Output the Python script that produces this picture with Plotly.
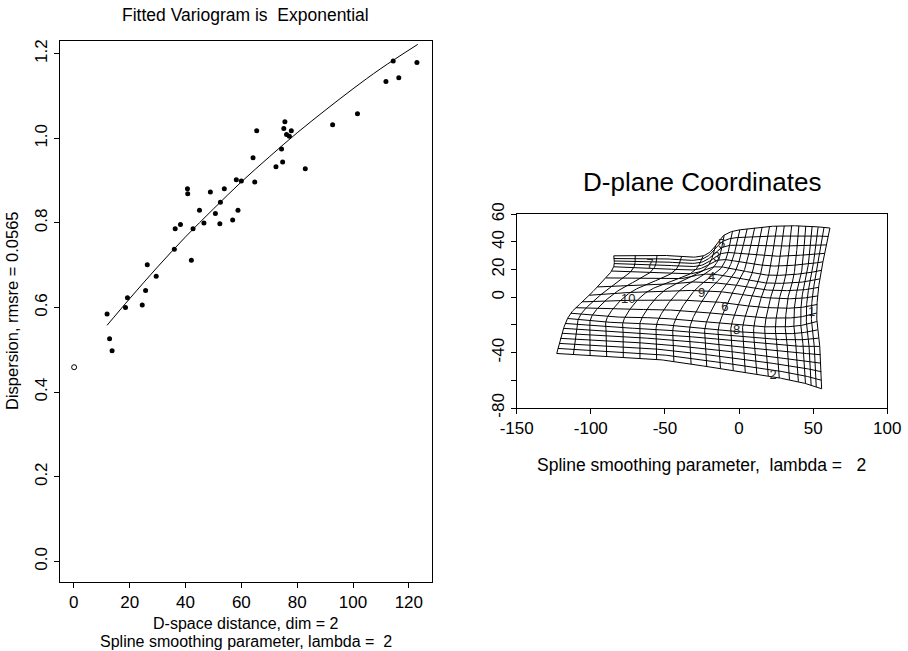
import numpy as np
import plotly.graph_objects as go

# ---------------- Left panel: variogram ----------------
dist = [114.4, 122.9, 111.8, 116.4, 101.6, 92.7, 82.9, 75.6, 75.2, 77.9, 76.2, 77.2,
        74.4, 74.8, 72.4, 65.5, 64.2, 64.8, 58.2, 60.0, 40.7, 40.8, 48.9, 53.9, 52.5,
        45.0, 50.7, 58.8, 46.6, 52.3, 56.9, 36.3, 38.2, 42.7, 36.0, 42.1, 26.3, 29.5,
        19.2, 25.7, 18.5, 24.5, 11.9, 12.8, 13.7]
disp = [1.183, 1.179, 1.134, 1.143, 1.058, 1.032, 0.928, 1.039, 1.023, 1.018, 1.009, 1.005,
        0.975, 0.944, 0.933, 1.018, 0.954, 0.897, 0.902, 0.899, 0.881, 0.869, 0.873, 0.881, 0.849,
        0.830, 0.822, 0.830, 0.800, 0.798, 0.807, 0.786, 0.796, 0.786, 0.738, 0.712, 0.701, 0.674,
        0.623, 0.640, 0.600, 0.606, 0.585, 0.526, 0.498]
nugget_x = [0.1]
nugget_y = [0.459]
curve_h = [11.9, 20, 30, 40, 50, 60, 70, 80, 90, 100, 110, 123.2]
curve_g = [0.558, 0.621, 0.696, 0.767, 0.833, 0.897, 0.956, 1.013, 1.066, 1.117, 1.165, 1.222]
left_xticks = [0, 20, 40, 60, 80, 100, 120]
left_yticks = [0.0, 0.2, 0.4, 0.6, 0.8, 1.0, 1.2]
left_yticktext = ["0.0", "0.2", "0.4", "0.6", "0.8", "1.0", "1.2"]

# ---------------- Right panel: deformed grid (control lattice) ----------------
n_cols = 22
n_rows = 20
ctrl_cols = [0, 2, 4, 6, 9, 13, 17, 21]
ctrl_rows = [0, 4, 8, 11, 14, 19]
node_x = [
    [-123.0, -100.5, -78.1, -55.6, -21.8, 12.0, 40.0, 55.7],
    [-119.5, -100.3, -78.0, -56.0, -23.0, 11.0, 39.0, 55.0],
    [-113.5, -99.0, -77.0, -54.0, -22.0, 10.0, 37.0, 52.5],
    [-101.0, -84.0, -62.0, -40.0, -12.0, 15.0, 38.0, 53.0],
    [-86.0, -60.0, -33.0, -17.0, -2.0, 20.0, 42.0, 55.5],
    [-84.5, -55.3, -24.2, -10.0, 5.5, 25.5, 45.0, 61.3],
]
node_y = [
    [-40.6, -42.0, -43.3, -44.8, -50.0, -55.5, -61.0, -66.1],
    [-26.0, -27.0, -28.5, -30.0, -33.0, -37.0, -40.0, -41.5],
    [-11.5, -13.0, -14.5, -15.0, -18.0, -21.0, -21.0, -17.5],
    [1.5, 3.0, 4.0, 5.0, 4.0, 0.0, -1.0, 1.0],
    [19.0, 18.0, 17.0, 22.0, 20.0, 16.0, 17.0, 19.5],
    [30.0, 30.5, 30.0, 45.0, 49.5, 51.5, 51.5, 50.1],
]
site_labels = ["1", "2", "3", "4", "5", "6", "7", "8", "9", "10"]
site_x = [49.0, 23.0, -15.1, -18.5, -11.7, -9.5, -60.0, -1.6, -25.3, -74.7]
site_y = [-11.3, -56.5, 28.4, 14.0, 38.0, -7.7, 23.6, -24.5, 2.5, -1.7]
right_xticks = [-150, -100, -50, 0, 50, 100]
right_xticktext = ["-150", "-100", "-50", "0", "50", "100"]
right_yticks = [-80, -60, -40, -20, 0, 20, 40, 60]
right_yticktext = ["-80", "", "-40", "", "0", "20", "40", "60"]


def hermite(knots, vals, t):
    k = np.asarray(knots, float)
    v = np.asarray(vals, float)
    t = np.atleast_1d(np.asarray(t, float))
    m = np.empty_like(v)
    m[0] = (v[1] - v[0]) / (k[1] - k[0])
    m[-1] = (v[-1] - v[-2]) / (k[-1] - k[-2])
    m[1:-1] = (v[2:] - v[:-2]) / (k[2:] - k[:-2])
    i = np.clip(np.searchsorted(k, t, side="right") - 1, 0, len(k) - 2)
    h = k[i + 1] - k[i]
    s = (t - k[i]) / h
    h00 = 2 * s**3 - 3 * s**2 + 1
    h10 = s**3 - 2 * s**2 + s
    h01 = -2 * s**3 + 3 * s**2
    h11 = s**3 - s**2
    return h00 * v[i] + h10 * h * m[i] + h01 * v[i + 1] + h11 * h * m[i + 1]


def warp(c, r, nodes):
    c = np.atleast_1d(np.asarray(c, float))
    r = np.atleast_1d(np.asarray(r, float))
    rows_at_c = np.array([hermite(ctrl_cols, row, c) for row in nodes])
    return np.array([hermite(ctrl_rows, rows_at_c[:, j], r[j])[0] for j in range(len(c))])


gx, gy = [], []
cfine = np.linspace(0, n_cols - 1, 211)
for r in range(n_rows):
    rr = np.full_like(cfine, r)
    gx += list(warp(cfine, rr, node_x)) + [None]
    gy += list(warp(cfine, rr, node_y)) + [None]
rfine = np.linspace(0, n_rows - 1, 191)
for c in range(n_cols):
    cc = np.full_like(rfine, c)
    gx += list(warp(cc, rfine, node_x)) + [None]
    gy += list(warp(cc, rfine, node_y)) + [None]

FONT = "Liberation Sans, Arial, Helvetica, sans-serif"
fig = go.Figure()

fig.add_trace(go.Scatter(x=curve_h, y=curve_g, mode="lines", line=dict(color="black", width=1, shape="spline"),
                         xaxis="x", yaxis="y", showlegend=False, hoverinfo="skip"))
fig.add_trace(go.Scatter(x=dist, y=disp, mode="markers", marker=dict(color="black", size=5),
                         xaxis="x", yaxis="y", showlegend=False))
fig.add_trace(go.Scatter(x=nugget_x, y=nugget_y, mode="markers",
                         marker=dict(color="white", size=5, line=dict(color="black", width=1)),
                         xaxis="x", yaxis="y", showlegend=False))

fig.add_trace(go.Scatter(x=gx, y=gy, mode="lines", line=dict(color="black", width=1),
                         xaxis="x2", yaxis="y2", showlegend=False, hoverinfo="skip", connectgaps=False))
fig.add_trace(go.Scatter(x=site_x, y=site_y, mode="text", text=site_labels,
                         textfont=dict(family=FONT, size=13, color="#222"),
                         xaxis="x2", yaxis="y2", showlegend=False))

W, H = 908, 651
tickfont = dict(family=FONT, size=17, color="black")
axstyle = dict(showline=True, mirror=True, linecolor="black", linewidth=1, ticks="outside",
               ticklen=5, tickcolor="black", showgrid=False, zeroline=False, automargin=False,
               tickfont=tickfont)

fig.update_layout(
    width=W, height=H, margin=dict(l=0, r=0, t=0, b=0, autoexpand=False),
    paper_bgcolor="white", plot_bgcolor="white",
    font=dict(family=FONT, color="black"),
    xaxis=dict(domain=[60 / W, 432 / W], range=[-4.96, 128.3], tickvals=left_xticks, anchor="y", **axstyle),
    yaxis=dict(domain=[1 - 581.7 / H, 1 - 41 / H], range=[-0.048, 1.230], tickvals=left_yticks,
               ticktext=left_yticktext, tickangle=-90, anchor="x", **axstyle),
    xaxis2=dict(domain=[516.7 / W, 887.3 / W], range=[-150, 100], tickvals=right_xticks,
                ticktext=right_xticktext, anchor="y2", **axstyle),
    yaxis2=dict(domain=[1 - 408 / H, 1 - 214.3 / H], range=[-80, 60], tickvals=right_yticks,
                ticktext=right_yticktext, tickangle=-90, anchor="x2", **axstyle),
    annotations=[
        dict(text="Fitted Variogram is\u00a0\u00a0Exponential", x=245 / W, y=1 - 15 / H, xref="paper", yref="paper",
             showarrow=False, font=dict(size=17.5), xanchor="center", yanchor="middle"),
        dict(text="Dispersion, rmsre = 0.0565", x=12 / W, y=1 - 311 / H, xref="paper", yref="paper",
             showarrow=False, font=dict(size=16.5), textangle=-90, xanchor="center", yanchor="middle"),
        dict(text="D-space distance, dim = 2", x=246 / W, y=1 - 623.5 / H, xref="paper", yref="paper",
             showarrow=False, font=dict(size=16), xanchor="center", yanchor="middle"),
        dict(text="Spline smoothing parameter, lambda =\u00a0\u00a02", x=246 / W, y=1 - 641 / H,
             xref="paper", yref="paper", showarrow=False, font=dict(size=16), xanchor="center", yanchor="middle"),
        dict(text="D-plane Coordinates", x=701.7 / W, y=1 - 182 / H, xref="paper", yref="paper",
             showarrow=False, font=dict(size=26), xanchor="center", yanchor="middle"),
        dict(text="Spline smoothing parameter,\u00a0\u00a0lambda =\u00a0\u00a0\u00a02", x=701.7 / W, y=1 - 465 / H,
             xref="paper", yref="paper", showarrow=False, font=dict(size=17.5), xanchor="center", yanchor="middle"),
    ],
)

fig.write_html("out.html", config={"displayModeBar": False},
               post_script="document.body.style.margin='0px';document.body.style.overflow='hidden';")
